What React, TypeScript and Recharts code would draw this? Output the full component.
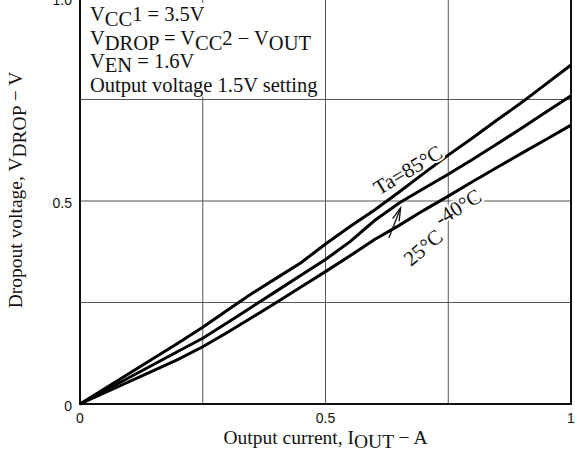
import React from 'react';
import {
  LineChart,
  Line,
  XAxis,
  YAxis,
  CartesianGrid,
  ReferenceArea,
  ReferenceDot,
  ReferenceLine,
} from 'recharts';

const currents = [0, 0.2, 0.25, 0.3, 0.35, 0.4, 0.45, 0.5, 0.55, 0.6, 0.65, 0.7, 0.75, 0.8, 0.85, 0.9, 0.95, 1.0];
const drop85 = [0, 0.15, 0.189, 0.231, 0.272, 0.31, 0.348, 0.394, 0.437, 0.478, 0.522, 0.568, 0.613, 0.656, 0.7, 0.743, 0.789, 0.835];
const drop25 = [0, 0.13, 0.162, 0.2, 0.239, 0.278, 0.317, 0.356, 0.4, 0.452, 0.495, 0.531, 0.566, 0.603, 0.641, 0.68, 0.72, 0.759];
const dropM40 = [0, 0.11, 0.141, 0.176, 0.213, 0.25, 0.288, 0.326, 0.365, 0.405, 0.44, 0.477, 0.512, 0.548, 0.583, 0.618, 0.652, 0.687];

const xTicks = [0, 0.25, 0.5, 0.75, 1];
const xTickLabels = ['0', '', '0.5', '', '1'];
const yTicks = [0, 0.25, 0.5, 0.75, 1];
const yTickLabels = ['0', '', '0.5', '', '1.0'];

const data = currents.map((i, k) => ({
  i,
  t85: drop85[k],
  t25: drop25[k],
  tm40: dropM40[k],
}));

const SERIF = '"Liberation Serif", "DejaVu Serif", serif';
const SANS = '"Liberation Sans", Arial, sans-serif';
const INK = '#111';

const XTick = (props: any) => {
  const { x, y, payload } = props;
  const idx = xTicks.indexOf(payload.value);
  const lbl = idx >= 0 ? xTickLabels[idx] : '';
  if (!lbl) return null;
  return (
    <text x={x} y={y + 19} textAnchor="middle" fontFamily={SANS} fontSize={14} fill={INK}>
      {lbl}
    </text>
  );
};

const YTick = (props: any) => {
  const { x, y, payload } = props;
  const idx = yTicks.indexOf(payload.value);
  const lbl = idx >= 0 ? yTickLabels[idx] : '';
  if (!lbl) return null;
  return (
    <text x={x - 8} y={y + 7} textAnchor="end" fontFamily={SANS} fontSize={14} fill={INK}>
      {lbl}
    </text>
  );
};

const XLabel = (props: any) => {
  const vb = props.viewBox || {};
  const cx = vb.x + vb.width / 2;
  return (
    <text x={cx} y={vb.y + 40} textAnchor="middle" fontFamily={SERIF} fontSize={19.5} fill={INK}>
      <tspan>Output current, I</tspan>
      <tspan dy={4}>OUT</tspan>
      <tspan dy={-4}> {'\u2212'} A</tspan>
    </text>
  );
};

const YLabel = (props: any) => {
  const vb = props.viewBox || {};
  const cx = 22;
  const cy = vb.y + vb.height / 2 - 11;
  return (
    <text
      x={cx}
      y={cy}
      transform={`rotate(-90 ${cx} ${cy})`}
      textAnchor="middle"
      fontFamily={SERIF}
      fontSize={19.5}
      fill={INK}
    >
      <tspan>Dropout voltage, V</tspan>
      <tspan dy={4}>DROP</tspan>
      <tspan dy={-4}> {'\u2212'} V</tspan>
    </text>
  );
};

const ConditionsBox = (props: any) => {
  const { cx, cy } = props;
  const x = cx + 10;
  const common = { fontFamily: SERIF, fontSize: 20.5, fill: INK } as any;
  return (
    <g>
      <text x={x} y={cy + 23} {...common}>
        <tspan>V</tspan>
        <tspan dy={5}>CC</tspan>
        <tspan dy={-5}>1 = 3.5V</tspan>
      </text>
      <text x={x} y={cy + 47} {...common}>
        <tspan>V</tspan>
        <tspan dy={5}>DROP</tspan>
        <tspan dy={-5}> = V</tspan>
        <tspan dy={5}>CC</tspan>
        <tspan dy={-5}>2 {'\u2212'} V</tspan>
        <tspan dy={5}>OUT</tspan>
      </text>
      <text x={x} y={cy + 70} {...common}>
        <tspan>V</tspan>
        <tspan dy={4}>EN</tspan>
        <tspan dy={-4}> = 1.6V</tspan>
      </text>
      <text x={x} y={cy + 94} {...common}>
        Output voltage 1.5V setting
      </text>
    </g>
  );
};

const makeRotatedLabel = (label: string, angle: number) => (props: any) => {
  const { cx, cy } = props;
  return (
    <text
      x={cx}
      y={cy}
      transform={`rotate(${angle} ${cx} ${cy})`}
      textAnchor="middle"
      dominantBaseline="central"
      fontFamily={SERIF}
      fontSize={21}
      fill={INK}
      stroke="#fff"
      strokeWidth={4}
      paintOrder="stroke"
    >
      {label}
    </text>
  );
};

const ArrowShape = (props: any) => {
  const { x1, y1, x2, y2 } = props;
  const dx = x2 - x1;
  const dy = y2 - y1;
  const len = Math.sqrt(dx * dx + dy * dy) || 1;
  const ux = dx / len;
  const uy = dy / len;
  const hl = 13;
  const hw = 3.5;
  const bx = x2 - ux * hl;
  const by = y2 - uy * hl;
  const px = -uy;
  const py = ux;
  return (
    <g>
      <line x1={x1} y1={y1} x2={x2} y2={y2} stroke={INK} strokeWidth={1.3} />
      <polyline
        points={`${bx + px * hw},${by + py * hw} ${x2},${y2} ${bx - px * hw},${by - py * hw}`}
        fill="none"
        stroke={INK}
        strokeWidth={1.3}
      />
    </g>
  );
};

export default function App() {
  return (
    <div style={{ position: 'absolute', left: 0, top: -10 }}>
      <LineChart
        width={575}
        height={464}
        data={data}
        margin={{ top: 8, right: 4, bottom: 20, left: 20 }}
      >
        <CartesianGrid stroke="#555" strokeWidth={1} />
        <XAxis
          type="number"
          dataKey="i"
          domain={[0, 1]}
          ticks={xTicks}
          tick={<XTick />}
          tickLine={false}
          axisLine={false}
          tickSize={0}
          tickMargin={0}
          height={30}
          interval={0}
          label={<XLabel />}
        />
        <YAxis
          type="number"
          domain={[0, 1]}
          ticks={yTicks}
          tick={<YTick />}
          tickLine={false}
          axisLine={false}
          tickSize={0}
          tickMargin={0}
          width={60}
          interval={0}
          label={<YLabel />}
        />
        <ReferenceArea x1={0} x2={0.497} y1={0.757} y2={0.988} fill="#fff" fillOpacity={1} stroke="none" ifOverflow="visible" />
        <ReferenceArea x1={0} x2={1} y1={0} y2={1} fill="none" stroke={INK} strokeWidth={2} ifOverflow="visible" />
        <Line dataKey="t85" type="linear" stroke="#000" strokeWidth={3} dot={false} isAnimationActive={false} />
        <Line dataKey="t25" type="linear" stroke="#000" strokeWidth={3} dot={false} isAnimationActive={false} />
        <Line dataKey="tm40" type="linear" stroke="#000" strokeWidth={3} dot={false} isAnimationActive={false} />
        <ReferenceDot x={0} y={1} r={0} ifOverflow="visible" shape={<ConditionsBox />} />
        <ReferenceDot x={0.668} y={0.576} r={0} ifOverflow="visible" shape={makeRotatedLabel('Ta=85\u00B0C', -31)} />
        <ReferenceDot x={0.77} y={0.484} r={0} ifOverflow="visible" shape={makeRotatedLabel('-40\u00B0C', -32)} />
        <ReferenceDot x={0.699} y={0.385} r={0} ifOverflow="visible" shape={makeRotatedLabel('25\u00B0C', -40)} />
        <ReferenceLine
          segment={[
            { x: 0.629, y: 0.409 },
            { x: 0.653, y: 0.483 },
          ]}
          ifOverflow="visible"
          shape={ArrowShape}
        />
      </LineChart>
    </div>
  );
}
